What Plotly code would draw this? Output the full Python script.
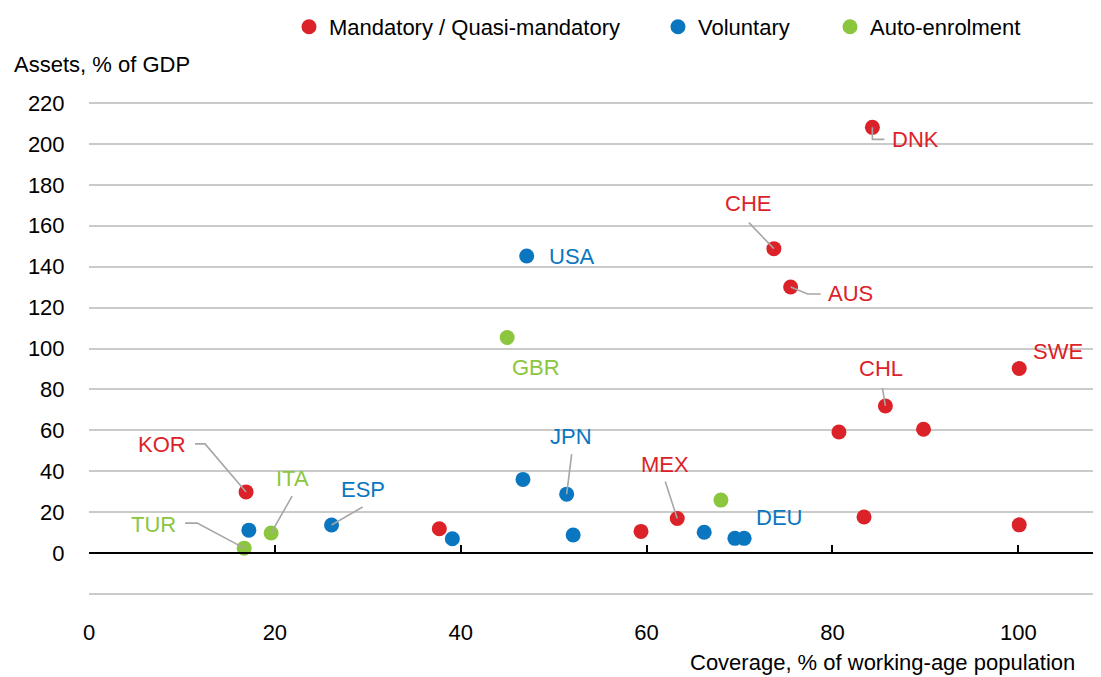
import plotly.graph_objects as go

# ---------------- data ----------------
mand_labels = ["DNK", "CHE", "AUS", "SWE", "CHL", "", "", "", "", "KOR", "", "", "MEX"]
mand_x = [84.3, 73.7, 75.5, 100.1, 85.7, 80.7, 89.8, 83.4, 100.1, 16.9, 37.7, 59.4, 63.3]
mand_y = [208.1, 148.8, 130.1, 90.2, 71.9, 59.2, 60.5, 17.6, 13.8, 29.9, 11.9, 10.6, 16.9]

vol_labels = ["USA", "JPN", "", "", "", "", "", "DEU", "ESP", ""]
vol_x = [47.1, 51.4, 46.7, 39.1, 52.1, 66.2, 69.5, 70.5, 26.1, 17.2]
vol_y = [145.2, 28.8, 36.0, 7.0, 8.8, 10.2, 7.2, 7.2, 13.7, 11.2]

auto_labels = ["GBR", "TUR", "ITA", ""]
auto_x = [45.0, 16.7, 19.6, 68.0]
auto_y = [105.4, 2.4, 9.8, 25.9]

series_names = ["Mandatory / Quasi-mandatory", "Voluntary", "Auto-enrolment"]
x_ticks = [0, 20, 40, 60, 80, 100]
y_ticks = [-20, 0, 20, 40, 60, 80, 100, 120, 140, 160, 180, 200, 220]
y_ticktext = [""] + [str(v) for v in y_ticks[1:]]

# ---------------- style ----------------
FONT = "Liberation Sans, Arial, sans-serif"
FS = 22
RED, BLUE, GREEN = "#DC2229", "#0B76C0", "#8CC63F"
LEADER = "#A6A6A6"
GRID = "#CACACA"

# label offsets in screen pixels (dx right, dy down) and leader polyline vertices
LABEL_POS = {
    "DNK": (43, 12, [(0, 0), (0, 12), (12, 12)]),
    "CHE": (-26, -45, [(0, 0), (-25, -26)]),
    "AUS": (60, 7, [(0, 0), (17, 7), (30, 7)]),
    "SWE": (39, -17, None),
    "CHL": (-4, -37, [(0, 0), (-3, -18)]),
    "USA": (45, 0, None),
    "GBR": (29, 30, None),
    "KOR": (-84, -47, [(-51, -48), (-41, -48), (0, 0)]),
    "ITA": (21, -55, [(0, 0), (21, -37)]),
    "ESP": (31, -36, [(0, 0), (31, -18)]),
    "TUR": (-91, -24, [(-59, -25), (-47, -25), (0, 0)]),
    "JPN": (4, -58, [(0, 0), (5, -40)]),
    "MEX": (-12, -54, [(0, 0), (-12, -37)]),
    "DEU": (35, -21, None),
}

OFF = 8  # default page body margin
W, H = 1101 - OFF, 677 - OFF
ML, MT = 89 - OFF, 102 - OFF
PW, PH = 1012, 493
MR, MB = W - ML - PW, H - MT - PH
X_RANGE = [0, 108.9]
Y_RANGE = [-20.5, 220.5]


def px_x(sx):  # screen x -> paper fraction
    return (sx - OFF - ML) / PW


def px_y(sy):  # screen y -> paper fraction
    return (MT + PH - (sy - OFF)) / PH


fig = go.Figure()
series = [
    (series_names[0], mand_x, mand_y, mand_labels, RED, "legend"),
    (series_names[1], vol_x, vol_y, vol_labels, BLUE, "legend2"),
    (series_names[2], auto_x, auto_y, auto_labels, GREEN, "legend3"),
]

annotations = []
shapes = []
for name, xs, ys, labs, col, lg in series:
    fig.add_trace(go.Scatter(
        x=xs, y=ys, mode="markers", name=name, legend=lg,
        marker=dict(size=15, color=col, line=dict(width=0)),
        hoverinfo="x+y+text", text=labs,
    ))
    for xv, yv, lab in zip(xs, ys, labs):
        if not lab:
            continue
        dx, dy, path = LABEL_POS[lab]
        annotations.append(dict(
            x=xv, y=yv, xref="x", yref="y", text=lab, showarrow=False,
            xshift=dx, yshift=-dy, xanchor="center", yanchor="middle",
            font=dict(family=FONT, size=FS, color=col),
        ))
        if path:
            d = "M" + " L".join(f"{px},{-py}" for px, py in path)
            shapes.append(dict(
                type="path", path=d, xref="x", yref="y",
                xsizemode="pixel", ysizemode="pixel", xanchor=xv, yanchor=yv,
                line=dict(color=LEADER, width=1.6), layer="above",
            ))

# dummy trace for the zero-line axis carrying the tick marks
fig.add_trace(go.Scatter(x=[None], y=[None], xaxis="x2", showlegend=False, hoverinfo="skip"))

# axis titles
annotations.append(dict(
    text="Assets, % of GDP", xref="paper", yref="paper",
    x=px_x(12), y=px_y(64), xanchor="left", yanchor="middle",
    showarrow=False, font=dict(family=FONT, size=FS, color="black"),
))
annotations.append(dict(
    text="Coverage, % of working-age population", xref="paper", yref="paper",
    x=px_x(1077), y=px_y(662), xanchor="right", yanchor="middle",
    showarrow=False, font=dict(family=FONT, size=FS, color="black"),
))

zero_pos = (0 - Y_RANGE[0]) / (Y_RANGE[1] - Y_RANGE[0])

legend_common = dict(orientation="h", xref="container", yref="container",
                     yanchor="middle", y=1 - (27 - OFF) / H, bgcolor="rgba(0,0,0,0)",
                     font=dict(family=FONT, size=FS, color="black"),
                     itemclick=False, itemdoubleclick=False)

fig.update_layout(
    width=W, height=H,
    margin=dict(l=ML, r=MR, t=MT, b=MB, autoexpand=False),
    paper_bgcolor="white", plot_bgcolor="white",
    font=dict(family=FONT, size=FS, color="black"),
    xaxis=dict(range=X_RANGE, tickvals=x_ticks, showgrid=False, zeroline=False,
               showline=False, ticks="", ticklabelstandoff=22,
               tickfont=dict(family=FONT, size=FS, color="black")),
    xaxis2=dict(range=X_RANGE, overlaying="x", anchor="free", position=zero_pos,
                side="bottom", showline=True, linecolor="black", linewidth=1.6,
                ticks="inside", ticklen=7, tickwidth=1.6, tickcolor="black",
                tickvals=x_ticks, showticklabels=False, showgrid=False, zeroline=False),
    yaxis=dict(range=Y_RANGE, tickvals=y_ticks, ticktext=y_ticktext, showgrid=True,
               gridcolor=GRID, gridwidth=1.5, zeroline=False, showline=False,
               ticks="outside", ticklen=19, tickcolor="rgba(0,0,0,0)",
               tickfont=dict(family=FONT, size=FS, color="black")),
    legend=dict(x=(289 - OFF) / W, xanchor="left", **legend_common),
    legend2=dict(x=(658 - OFF) / W, xanchor="left", **legend_common),
    legend3=dict(x=(830 - OFF) / W, xanchor="left", **legend_common),
    annotations=annotations,
    shapes=shapes,
    showlegend=True,
)

fig.write_html(
    "out.html",
    post_script="document.documentElement.style.overflow='hidden';"
                "document.body.style.overflow='hidden';",
)
